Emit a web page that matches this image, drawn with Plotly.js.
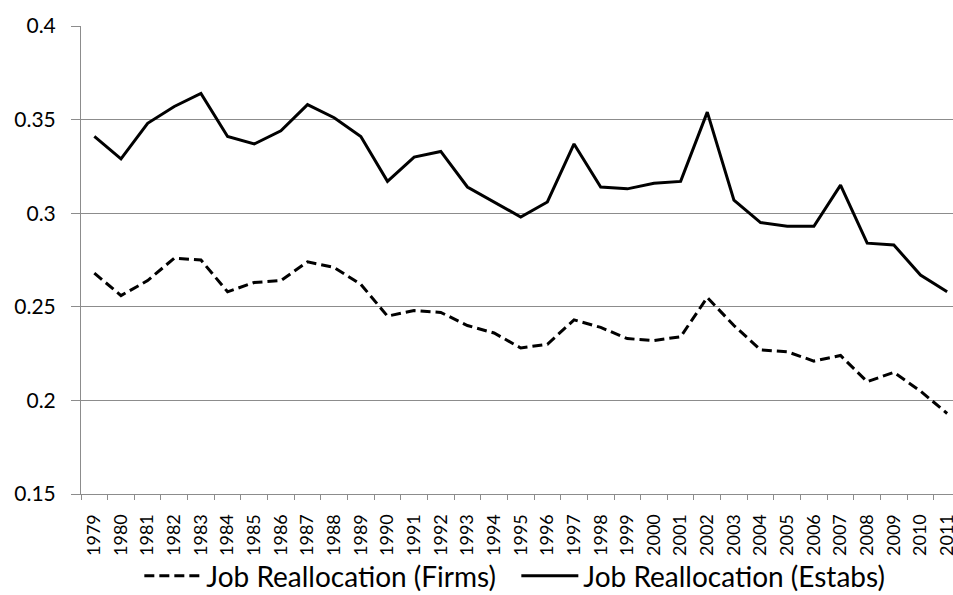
<!DOCTYPE html>
<html>
<head>
<meta charset="utf-8">
<script src="https://cdn.plot.ly/plotly-3.0.1.min.js"></script>
<style>html,body{margin:0;padding:0;background:#fff;}#chart{width:953px;height:595px;}</style>
</head>
<body>
<div id="chart"></div>
<script>
const years = ['1979','1980','1981','1982','1983','1984','1985','1986','1987','1988','1989','1990','1991','1992','1993','1994','1995','1996','1997','1998','1999','2000','2001','2002','2003','2004','2005','2006','2007','2008','2009','2010','2011'];
const firms = [0.268,0.256,0.264,0.276,0.275,0.258,0.263,0.264,0.274,0.271,0.262,0.245,0.248,0.247,0.240,0.236,0.228,0.230,0.243,0.239,0.233,0.232,0.234,0.255,0.240,0.227,0.226,0.221,0.224,0.210,0.215,0.205,0.193];
const estabs = [0.341,0.329,0.348,0.357,0.364,0.341,0.337,0.344,0.358,0.351,0.341,0.317,0.330,0.333,0.314,0.306,0.298,0.306,0.337,0.314,0.313,0.316,0.317,0.354,0.307,0.295,0.293,0.293,0.315,0.284,0.283,0.267,0.258];
const yTicks = [0.15,0.2,0.25,0.3,0.35,0.4];
const yTickText = ['0.15','0.2','0.25','0.3','0.35','0.4'];

const font = 'Lato, "Open Sans", sans-serif';
const traces = [
  {x: years, y: firms, type: 'scatter', mode: 'lines', name: 'Job Reallocation (Firms)',
   line: {color: '#000', width: 3, dash: '10px,5px'}},
  {x: years, y: estabs, type: 'scatter', mode: 'lines', name: 'Job Reallocation (Estabs)',
   line: {color: '#000', width: 3}}
];
const layout = {
  width: 953, height: 595,
  margin: {l: 81, r: 0, t: 26, b: 101},
  paper_bgcolor: '#fff', plot_bgcolor: '#fff',
  font: {family: font, color: '#000'},
  showlegend: true,
  legend: {orientation: 'h', xref: 'container', yref: 'container', x: 0.5418, y: 0.032,
           xanchor: 'center', yanchor: 'middle', font: {size: 28, family: font},
           itemwidth: 57, entrywidth: 305, tracegroupgap: 0, bgcolor: 'rgba(0,0,0,0)'},
  xaxis: {type: 'category', range: [-0.5, 32.22], tickangle: -90,
          tickfont: {size: 18, family: font}, ticks: 'outside', ticklen: 5,
          tickcolor: '#8c8c8c', tickson: 'boundaries', showgrid: false,
          showline: true, linecolor: '#8c8c8c', linewidth: 1, zeroline: false,
          ticklabelstandoff: 12, fixedrange: true},
  yaxis: {range: [0.15, 0.4], tickvals: yTicks, ticktext: yTickText,
          tickfont: {size: 21, family: font}, ticks: 'outside', ticklen: 9,
          tickcolor: '#8c8c8c', showgrid: true, gridcolor: '#8c8c8c', gridwidth: 1,
          showline: true, linecolor: '#8c8c8c', linewidth: 1, zeroline: false,
          ticklabelstandoff: 11, fixedrange: true}
};
Plotly.newPlot('chart', traces, layout, {displayModeBar: false, staticPlot: true});
</script>
</body>
</html>
